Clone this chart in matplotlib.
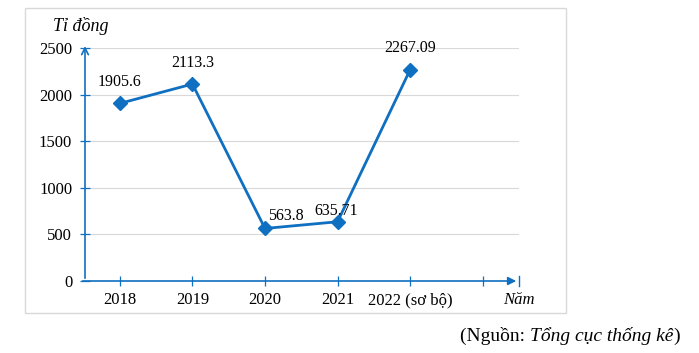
import matplotlib
matplotlib.use('Agg')
import matplotlib.pyplot as plt
from matplotlib.patches import Rectangle

plt.rcParams['font.family'] = ['Liberation Serif', 'DejaVu Serif']

years = ['2018', '2019', '2020', '2021', '2022 (sơ bộ)', '']
values = [1905.6, 2113.3, 563.8, 635.71, 2267.09]
labels = ['1905.6', '2113.3', '563.8', '635.71', '2267.09']
yticks = [0, 500, 1000, 1500, 2000, 2500]

blue = '#0F6FC0'

fig = plt.figure(figsize=(6.99, 3.53), dpi=100)
W, H = 699, 353
ax = fig.add_axes([85 / W, (H - 281) / H, (519 - 85) / W, (281 - 48) / H])

# khung ngoai
fig.patches.append(Rectangle((25 / W, (H - 313) / H), (566 - 25) / W, (313 - 8) / H,
                             transform=fig.transFigure, fill=False,
                             edgecolor='#D9D9D9', lw=1.0))

x = list(range(len(values)))
ax.plot(x, values, color=blue, lw=2, marker='D', markersize=7, zorder=3)

# nhan du lieu (lech tinh theo diem anh -> point)
offsets = [(0, 21), (0, 21), (21, 12), (-1, 11), (0, 22)]
for xi, v, t, (dx, dy) in zip(x, values, labels, offsets):
    ax.annotate(t, (xi, v), xytext=(dx * 0.72, dy * 0.72), textcoords='offset points',
                ha='center', va='center', fontsize=11.5)

ax.set_xlim(-0.48, 5.5)
ax.set_ylim(0, 2500)
ax.set_xticks(range(len(years)))
ax.set_xticklabels(years, fontsize=12)
ax.set_yticks(yticks)
ax.set_yticklabels([str(v) for v in yticks], fontsize=12)
ax.yaxis.grid(True, color='#D9D9D9', lw=0.8)
ax.set_axisbelow(True)
ax.tick_params(axis='both', direction='inout', length=6.5, color=blue, width=0.9)
ax.tick_params(axis='y', pad=6)
ax.tick_params(axis='x', pad=5)
for s in ax.spines.values():
    s.set_visible(False)

# truc co mui ten
ax.annotate('', xy=(1.0, 0), xytext=(-0.012, 0), xycoords='axes fraction',
            arrowprops=dict(arrowstyle='-|>', color=blue, lw=1.2, mutation_scale=12))
ax.plot([1.0, 1.0], [-0.02, 0.02], transform=ax.transAxes, color=blue, lw=1, clip_on=False)
ax.annotate('', xy=(0, 1.02), xytext=(0, 0), xycoords='axes fraction',
            arrowprops=dict(arrowstyle='->', color=blue, lw=1.2, mutation_scale=12))

fig.text(53 / W, 1 - 26 / H, 'Tỉ đồng', style='italic', fontsize=13, va='center')
fig.text(503 / W, 1 - 300 / H, 'Năm', style='italic', fontsize=12, va='center')

# dong nguon: ghep cac doan chu noi tiep nhau
renderer = fig.canvas.get_renderer()
xpos = 460
for txt, st in [('(Nguồn: ', 'normal'), ('Tổng cục thống kê', 'italic'), (')', 'normal')]:
    t = fig.text(xpos / W, 1 - 336 / H, txt, style=st, fontsize=14, va='center')
    xpos += t.get_window_extent(renderer).width

fig.savefig('out.png', dpi=100)
